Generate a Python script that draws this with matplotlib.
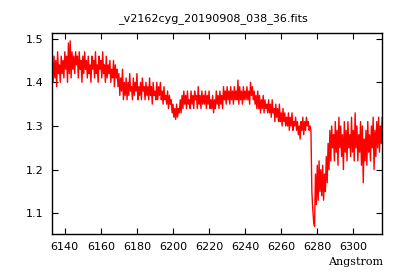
import matplotlib
matplotlib.use("Agg")
import matplotlib.pyplot as plt
import numpy as np

# spectrum, one value per half Angstrom from 6133
start_wave = 6133.0
step = 0.5
flux = [
    1.44, 1.40, 1.46, 1.41, 1.45, 1.39, 1.47, 1.42, 1.44, 1.40, 1.46, 1.42,
    1.45, 1.41, 1.47, 1.43, 1.46, 1.40, 1.49, 1.42, 1.495, 1.41, 1.47, 1.43,
    1.46, 1.42, 1.47, 1.44, 1.46, 1.41, 1.47, 1.43, 1.45, 1.40, 1.46, 1.42,
    1.47, 1.43, 1.45, 1.41, 1.46, 1.42, 1.44, 1.40, 1.46, 1.43, 1.45, 1.41,
    1.47, 1.42, 1.44, 1.40, 1.46, 1.43, 1.45, 1.41, 1.47, 1.42, 1.44, 1.40,
    1.46, 1.41, 1.44, 1.42, 1.45, 1.40, 1.43, 1.41, 1.45, 1.39, 1.44, 1.41,
    1.43, 1.39, 1.42, 1.37, 1.41, 1.38, 1.43, 1.36, 1.40, 1.37, 1.41, 1.36,
    1.40, 1.37, 1.42, 1.38, 1.39, 1.36, 1.41, 1.37, 1.40, 1.38, 1.42, 1.36,
    1.39, 1.37, 1.40, 1.36, 1.41, 1.38, 1.39, 1.36, 1.40, 1.37, 1.39, 1.36,
    1.41, 1.37, 1.39, 1.35, 1.40, 1.37, 1.38, 1.36, 1.40, 1.36, 1.39, 1.37,
    1.40, 1.36, 1.38, 1.35, 1.39, 1.36, 1.37, 1.35, 1.38, 1.34, 1.37, 1.35,
    1.36, 1.33, 1.35, 1.32, 1.34, 1.315, 1.35, 1.32, 1.34, 1.33, 1.36, 1.33,
    1.37, 1.34, 1.38, 1.35, 1.37, 1.34, 1.38, 1.35, 1.36, 1.34, 1.38, 1.35,
    1.37, 1.34, 1.38, 1.36, 1.37, 1.34, 1.39, 1.35, 1.37, 1.34, 1.38, 1.35,
    1.37, 1.35, 1.38, 1.34, 1.37, 1.35, 1.38, 1.34, 1.36, 1.34, 1.37, 1.33,
    1.36, 1.34, 1.38, 1.35, 1.37, 1.34, 1.38, 1.35, 1.37, 1.34, 1.39, 1.36,
    1.38, 1.35, 1.39, 1.36, 1.38, 1.35, 1.39, 1.36, 1.38, 1.35, 1.39, 1.36,
    1.38, 1.36, 1.405, 1.35, 1.39, 1.36, 1.38, 1.35, 1.39, 1.36, 1.38, 1.36,
    1.39, 1.36, 1.38, 1.35, 1.40, 1.37, 1.39, 1.36, 1.38, 1.35, 1.37, 1.34,
    1.38, 1.34, 1.37, 1.33, 1.36, 1.34, 1.37, 1.33, 1.36, 1.34, 1.35, 1.33,
    1.36, 1.33, 1.35, 1.32, 1.36, 1.33, 1.34, 1.31, 1.35, 1.32, 1.34, 1.31,
    1.35, 1.31, 1.33, 1.30, 1.34, 1.31, 1.33, 1.30, 1.32, 1.30, 1.33, 1.29,
    1.32, 1.30, 1.33, 1.29, 1.31, 1.30, 1.32, 1.29, 1.31, 1.28, 1.30, 1.27,
    1.31, 1.29, 1.32, 1.28, 1.31, 1.29, 1.32, 1.30, 1.31, 1.29, 1.30, 1.29,
    1.15, 1.11, 1.08, 1.07, 1.19, 1.12, 1.21, 1.13, 1.22, 1.15, 1.20, 1.14,
    1.21, 1.13, 1.19, 1.15, 1.23, 1.17, 1.26, 1.20, 1.29, 1.22, 1.30, 1.25,
    1.28, 1.22, 1.31, 1.24, 1.29, 1.21, 1.32, 1.25, 1.30, 1.23, 1.28, 1.20,
    1.31, 1.24, 1.29, 1.22, 1.31, 1.25, 1.28, 1.23, 1.32, 1.24, 1.29, 1.22,
    1.33, 1.25, 1.30, 1.22, 1.28, 1.24, 1.31, 1.21, 1.30, 1.17, 1.27, 1.22,
    1.29, 1.21, 1.31, 1.24, 1.28, 1.22, 1.30, 1.25, 1.32, 1.20, 1.29, 1.23,
    1.31, 1.25, 1.32, 1.24, 1.30, 1.26, 1.32, 1.24,
]
wave = start_wave + step * np.arange(len(flux))

xticks = [6140, 6160, 6180, 6200, 6220, 6240, 6260, 6280, 6300]
yticks = [1.1, 1.2, 1.3, 1.4, 1.5]
title = "_v2162cyg_20190908_038_36.fits"

fig = plt.figure(figsize=(4, 2.8), dpi=100)
ax = fig.add_axes([52 / 400, 1 - 234 / 280, 330 / 400, 201 / 280])

ax.plot(wave, flux, color="red", linewidth=1.0)

ax.set_xlim(6132.9, 6315.9)
ax.set_ylim(1.0525, 1.513)
ax.set_xticks(xticks)
ax.set_yticks(yticks)
ax.set_yticklabels(["%.1f" % v for v in yticks])
ax.tick_params(direction="in", length=4, width=0.8, top=True, right=True,
               labelsize=8, pad=6)
for s in ax.spines.values():
    s.set_linewidth(1.0)

fig.text(213 / 400, 1 - 19 / 280, title, ha="center", va="center", fontsize=8)
fig.text(383 / 400, 1 - 262 / 280, "Angstrom", ha="right", va="center",
         fontsize=8, family="DejaVu Serif")

fig.savefig("out.png", dpi=100)
